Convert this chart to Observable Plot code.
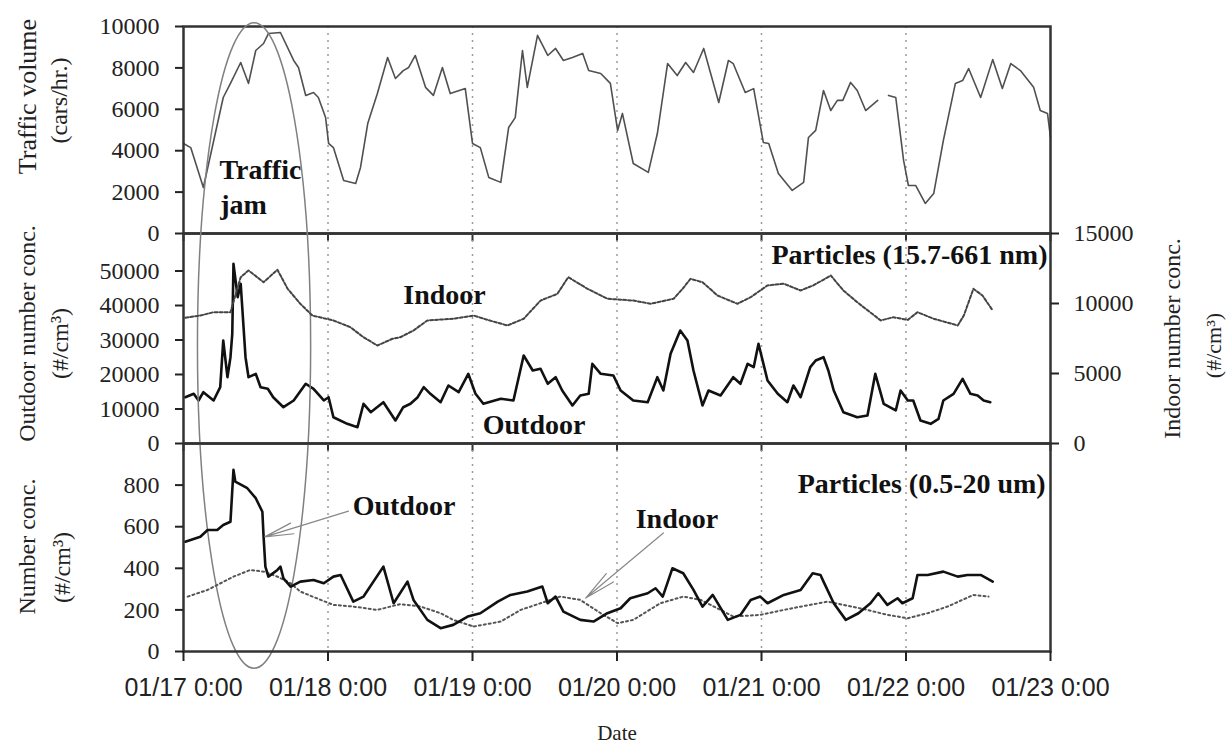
<!DOCTYPE html>
<html><head><meta charset="utf-8">
<script src="https://cdn.jsdelivr.net/npm/d3@7"></script>
<script src="https://cdn.jsdelivr.net/npm/@observablehq/plot@0.6"></script>
<style>
body{margin:0;background:#fff;}
#fig{position:relative;width:1229px;height:749px;overflow:hidden;background:#fff;}
#fig svg{position:absolute;left:0;}
</style></head><body><div id="fig"></div>
<script>
// ---- axis ticks ----
const dayTicks = [0, 24, 48, 72, 96, 120, 144];
const dayLabels = ["01/17 0:00","01/18 0:00","01/19 0:00","01/20 0:00","01/21 0:00","01/22 0:00","01/23 0:00"];
const trafficTicks = [0, 2000, 4000, 6000, 8000, 10000];
const outdoorFineTicks = [0, 10000, 20000, 30000, 40000, 50000];
const indoorFineTicks = [0, 5000, 10000, 15000];
const coarseTicks = [0, 200, 400, 600, 800];

// ---- traffic volume (cars/hr.), hours since 01/17 0:00 ----
const trafficHours = [0,1.2,3.3,6.6,7.8,9.5,10.8,12.0,13.3,14.1,16.1,18.3,19.1,20.3,21.6,22.4,23.6,24.1,24.9,26.6,28.6,29.4,30.6,32.2,33.9,35.2,36.5,37.4,38.5,40.2,41.5,43.0,44.3,46.8,48.0,49.3,50.7,52.7,54.0,55.1,56.3,57.1,58.8,60.5,61.8,63.1,64.6,66.3,67.3,69.3,70.9,72.1,72.9,74.7,77.2,78.7,80.4,82.0,83.4,84.7,86.4,88.9,90.5,91.3,93.3,94.7,96.3,97.2,98.8,101.1,103.0,103.8,105.0,106.3,107.5,108.6,109.5,110.8,111.9,113.3,115.3,116.2,117.1,118.3,119.6,120.4,121.6,123.2,124.6,126.2,128.2,129.4,130.4,132.4,134.4,136.0,137.4,139.0,141.2,142.3,143.5,144.0];
const trafficValues = [4350,4150,2220,6570,7250,8260,7250,8840,9180,9660,9710,8360,8020,6670,6810,6570,5600,4350,4150,2560,2420,3190,5310,6760,8500,7490,7870,8020,8600,7060,6670,8020,6760,7000,4350,4150,2710,2470,5120,5600,8840,7060,9570,8600,8940,8360,8500,8700,7870,7730,7250,4980,5800,3380,2950,4830,8210,7630,8260,7780,8940,6330,8360,8210,6810,7000,4400,4350,2900,2080,2470,4640,4980,6910,5940,6430,6430,7300,6910,5940,6430,null,6670,6570,3530,2320,2320,1450,1930,4490,7250,7390,7970,6570,8400,7000,8210,7870,7060,5940,5800,4640];

// ---- particles 15.7-661 nm, outdoor (#/cm3) ----
const outFineHours = [0.3,1.7,2.5,3.3,5.0,6.1,6.6,7.3,7.8,8.1,8.3,9.0,9.5,10.3,10.8,12.0,12.8,14.0,14.9,16.6,18.3,20.3,21.6,23.3,24.1,24.9,27.2,28.9,29.9,31.1,33.2,35.2,36.5,37.7,38.9,39.9,41.0,42.7,44.0,45.7,47.3,48.5,49.8,52.7,54.8,56.5,58.0,59.3,60.5,61.8,62.9,64.6,65.9,67.3,67.9,69.3,71.4,72.6,74.7,77.1,78.7,79.7,80.9,82.5,83.7,84.7,86.2,87.2,89.2,91.3,92.5,93.7,94.7,95.5,97.0,98.7,100.3,101.3,102.5,104.1,105.0,106.3,107.1,108.0,109.6,111.9,113.6,114.9,116.3,118.3,119.1,120.3,121.2,122.4,124.1,125.4,126.2,127.9,129.4,130.7,131.9,132.9,134.0];
const outFineValues = [13420,14400,12470,14870,12470,16320,29860,19220,25020,31800,52090,42410,46300,25020,19220,20200,16320,15850,13420,10520,12470,17310,15850,12470,13420,7620,5700,4730,11510,9070,11970,6670,10520,11510,13420,16320,14400,11970,16810,14870,20200,14400,11510,12960,12470,25510,21160,21650,17310,19220,15360,11020,13910,14400,23100,20200,19710,15360,12470,11970,19220,15360,26000,32760,29860,21160,11020,15360,13910,19220,17310,23100,22120,28900,18260,14400,11970,16810,13420,22120,24060,25020,21160,15360,9070,7620,8120,20200,11510,9570,15360,12470,12470,6670,5700,7150,12470,14400,18740,14400,13910,12470,11970];

// ---- particles 15.7-661 nm, indoor (#/cm3) ----
const inFineHours = [0.3,2.8,5.0,7.8,9.5,10.8,13.3,15.6,17.3,19.4,21.4,24.9,27.7,29.9,32.2,34.7,36.0,38.2,40.5,44.8,48.2,50.5,53.8,56.5,59.3,62.1,63.9,67.1,70.4,74.7,77.6,81.4,82.9,84.2,86.2,88.7,92.0,94.2,97.0,99.7,102.5,104.6,107.5,109.6,111.9,115.8,117.9,120.3,121.9,124.6,128.6,129.6,131.2,132.7,134.4];
const inFineValues = [8980,9140,9380,9380,11880,12360,11520,12410,11050,9980,9140,8790,8310,7590,7000,7480,7590,8070,8790,8910,9140,8830,8430,8910,10210,10690,11880,11050,10340,10210,9980,10340,11050,11760,11520,10570,9980,10450,11290,11410,10930,11290,12000,10930,10090,8790,9020,8830,9380,8910,8430,9140,11050,10570,9500];

// ---- particles 0.5-20 um, outdoor (#/cm3) ----
const outCoarseHours = [0.3,2.8,4.0,5.6,6.6,7.8,8.3,8.6,10.6,12.0,13.1,13.3,13.6,14.1,15.6,16.1,16.6,17.8,19.4,21.6,23.3,24.9,26.1,28.2,29.9,33.2,34.9,37.2,38.2,40.5,42.7,44.8,47.2,49.3,52.2,54.3,57.1,59.6,60.5,61.8,63.1,65.9,68.1,70.4,72.6,74.2,77.1,78.4,79.6,81.2,83.0,84.7,86.2,87.9,90.4,92.5,94.2,95.8,97.0,99.7,102.5,104.5,105.8,106.3,108.0,110.0,112.1,114.1,115.4,116.9,118.6,119.4,121.1,121.9,123.6,126.2,128.6,130.2,132.4,134.4];
const outCoarseValues = [528,552,584,584,608,624,873,817,785,737,672,552,408,360,392,408,352,312,336,344,328,360,368,240,264,408,232,336,248,152,112,128,168,184,240,272,288,312,232,264,192,152,144,184,208,256,280,304,264,400,376,296,216,272,152,176,248,264,232,272,296,376,368,336,232,152,184,232,280,224,256,232,256,368,368,384,360,368,368,336];

// ---- particles 0.5-20 um, indoor (#/cm3) ----
const inCoarseHours = [0.7,4.0,8.3,11.1,13.3,15.6,17.8,19.4,22.8,24.9,28.2,32.2,36.0,39.4,42.7,44.8,48.2,52.7,56.0,59.3,62.6,65.9,69.3,72.1,74.7,79.2,83.0,85.9,89.2,91.3,95.8,99.7,103.3,107.0,109.6,113.6,116.9,120.3,123.6,126.9,131.2,133.7];
const inCoarseValues = [264,296,360,392,384,360,328,288,248,224,216,200,228,216,184,152,120,144,200,232,264,248,184,136,152,232,264,248,200,168,176,200,220,240,224,200,176,160,184,216,272,264];

const zip = (hs, vs) => hs.map((h, i) => ({h, v: vs[i]}));
const traffic = zip(trafficHours, trafficValues);
const outFine = zip(outFineHours, outFineValues);
const inFine = zip(inFineHours, inFineValues);
const outCoarse = zip(outCoarseHours, outCoarseValues);
const inCoarse = zip(inCoarseHours, inCoarseValues);

// ---- layout/style ----
const serif = '"Liberation Serif", "Times New Roman", serif';
const sans = '"Liberation Sans", Arial, sans-serif';
const W = 1229, ML = 183, MR = 179;
const fig = document.getElementById("fig");
function place(svg, top) { svg.style.top = top + "px"; fig.appendChild(svg); }

const grid = () => Plot.ruleX(dayTicks.slice(1, -1), {stroke: "#9a9a9a", strokeWidth: 1.5, strokeDasharray: "2,5"});
const frame = () => Plot.frame({stroke: "#333", strokeWidth: 2.5});
const xTicks = () => Plot.axisX({ticks: dayTicks, tickSize: 8, tickFormat: () => "", label: null, strokeWidth: 2, color: "#333"});
const leftAxis = (ticks) => Plot.axisY({ticks, tickSize: 8, tickPadding: 16, tickFormat: d => String(d), label: null,
  fontFamily: serif, fontSize: 24, strokeWidth: 2, color: "#222"});
// rotated axis title: (px, py) centre in figure pixels, panelTop = figure y of the frame top
const title = (t, px, py, panelTop, size = 24) => Plot.text([t], {text: d => d, frameAnchor: "top-left", dx: px - ML, dy: py - panelTop,
  textAnchor: "middle", lineAnchor: "middle", rotate: -90, fontFamily: serif, fontSize: size, fill: "#222"});
const label = (t, x, y, anchor = "start") => Plot.text([t], {text: d => d, x, y, textAnchor: anchor,
  fontFamily: serif, fontSize: 28, fontWeight: "bold", fill: "#111"});

function ellipseMark(c, r) {
  return (index, scales) => {
    const X = scales.x(c[0]), Y = scales.y(c[1]);
    const e = document.createElementNS("http://www.w3.org/2000/svg", "ellipse");
    e.setAttribute("cx", X); e.setAttribute("cy", Y);
    e.setAttribute("rx", Math.abs(scales.x(c[0] + r[0]) - X));
    e.setAttribute("ry", Math.abs(scales.y(c[1] + r[1]) - Y));
    e.setAttribute("fill", "none"); e.setAttribute("stroke", "#808080"); e.setAttribute("stroke-width", "1.5");
    return e;
  };
}
const baseStyle = {overflow: "visible", fontFamily: serif};

// ---- top panel: traffic ----
const top1 = Plot.plot({
  width: W, height: 245, marginLeft: ML, marginRight: MR, marginTop: 26, marginBottom: 12,
  style: baseStyle, x: {domain: [0, 144]}, y: {domain: [0, 10000]},
  marks: [
    grid(),
    Plot.line(traffic, {x: "h", y: "v", stroke: "#505050", strokeWidth: 1.6}),
    frame(), leftAxis(trafficTicks), xTicks(),
    label("Traffic", 5.98, 3044), label("jam", 6.1, 1367),
    title("Traffic volume", 27, 96, 26, 26), title("(cars/hr.)", 59, 100, 26)
  ]
});
place(top1, 0);

// ---- middle panel: 15.7-661 nm ----
const midTop = 233;
const mid = Plot.plot({
  width: W, height: 232, marginLeft: ML, marginRight: MR, marginTop: 10, marginBottom: 12,
  style: baseStyle, x: {domain: [0, 144]}, y: {domain: [0, 60870]},
  marks: [
    grid(),
    Plot.line(outFine, {x: "h", y: "v", stroke: "#111", strokeWidth: 2.6}),
    frame(), leftAxis(outdoorFineTicks), xTicks(),
    label("Indoor", 36.5, 42900), label("Outdoor", 49.7, 5220),
    label("Particles (15.7-661 nm)", 143.5, 54500, "end"),
    title("Outdoor number conc.", 27, 333, midTop), title("(#/cm³)", 60, 343, midTop),
    ellipseMark([11.8, 28260], [9.4, 93570])
  ]
});
place(mid, midTop - 10);

const midR = Plot.plot({
  width: W, height: 232, marginLeft: ML, marginRight: MR, marginTop: 10, marginBottom: 12,
  style: baseStyle, x: {domain: [0, 144], axis: null}, y: {domain: [0, 15000]},
  marks: [
    Plot.line(inFine, {x: "h", y: "v", stroke: "#444", strokeWidth: 2, strokeDasharray: "3,2"}),
    Plot.axisY({anchor: "right", ticks: indoorFineTicks, tickSize: 8, tickPadding: 15, tickFormat: d => String(d), label: null,
      fontFamily: serif, fontSize: 24, strokeWidth: 2, color: "#222"}),
    title("Indoor number conc.", 1172, 338, midTop), title("(#/cm³)", 1213, 345, midTop, 22)
  ]
});
place(midR, midTop - 10);

// ---- bottom panel: 0.5-20 um ----
const botTop = 443;
const bot = Plot.plot({
  width: W, height: 316, marginLeft: ML, marginRight: MR, marginTop: 10, marginBottom: 98,
  style: baseStyle, x: {domain: [0, 144]}, y: {domain: [0, 1000]},
  marks: [
    grid(),
    Plot.line(inCoarse, {x: "h", y: "v", stroke: "#555", strokeWidth: 2, strokeDasharray: "2,3"}),
    Plot.line(outCoarse, {x: "h", y: "v", stroke: "#111", strokeWidth: 2.6}),
    frame(), leftAxis(coarseTicks),
    Plot.axisX({ticks: dayTicks, tickSize: 10, tickPadding: 17, tickFormat: d => dayLabels[dayTicks.indexOf(d)], label: null,
      fontFamily: sans, fontSize: 25, strokeWidth: 2, color: "#222"}),
    Plot.arrow([0], {x1: 27.4, y1: 675, x2: 13.5, y2: 551, stroke: "#888", strokeWidth: 1.2, headLength: 40, headAngle: 22}),
    Plot.arrow([0], {x1: 79.7, y1: 570, x2: 66.8, y2: 257, stroke: "#888", strokeWidth: 1.2, headLength: 40, headAngle: 20}),
    label("Outdoor", 28.1, 700), label("Indoor", 75.1, 637),
    label("Particles (0.5-20 um)", 143.2, 805, "end"),
    title("Number conc.", 27, 546, botTop), title("(#/cm³)", 62, 567, botTop),
    Plot.text(["Date"], {text: d => d, frameAnchor: "bottom", dy: 88, fontFamily: serif, fontSize: 21, fill: "#222"})
  ]
});
place(bot, botTop - 10);
</script>
</body></html>
